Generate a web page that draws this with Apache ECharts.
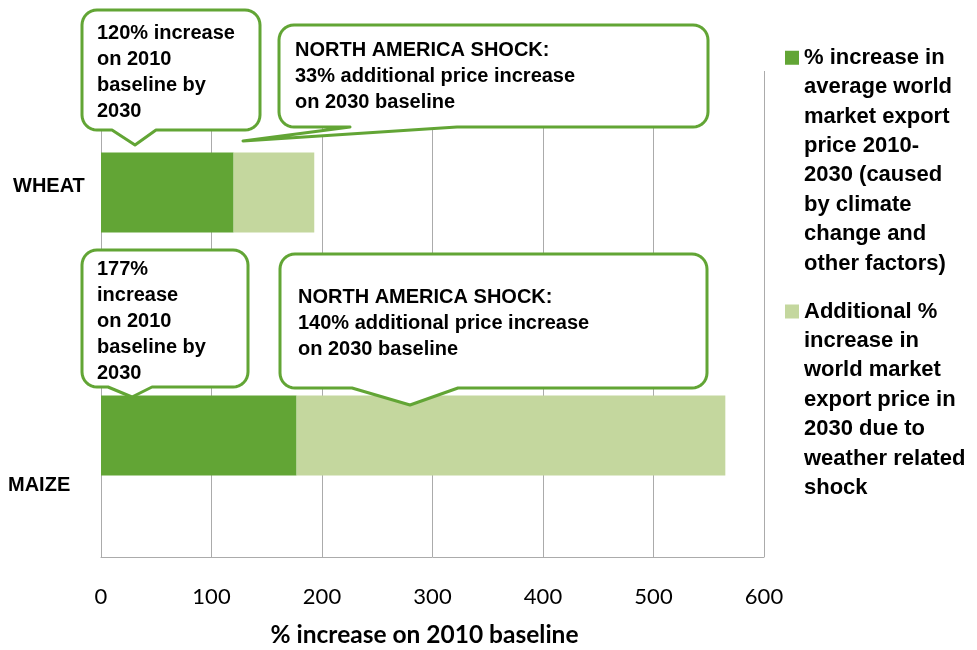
<!DOCTYPE html>
<html>
<head>
<meta charset="utf-8">
<script src="https://cdn.jsdelivr.net/npm/echarts@6/dist/echarts.min.js"></script>
<style>
html,body{margin:0;padding:0;background:#fff;}
#chart{width:977px;height:650px;}
</style>
</head>
<body>
<div id="chart"></div>
<script>
// ---- data ----
var categories = ['WHEAT', 'MAIZE'];
var baseIncrease = [120, 177];      // % increase 2010-2030
var shockIncrease = [73, 388];      // additional % due to weather shock
var xTicks = [0, 100, 200, 300, 400, 500, 600];
var seriesNames = [
  '% increase in average world market export price 2010-2030 (caused by climate change and other factors)',
  'Additional % increase in world market export price in 2030 due to weather related shock'
];
var legendLines = [
  ['% increase in', 'average world', 'market export', 'price 2010-', '2030 (caused', 'by climate', 'change and', 'other factors)'],
  ['Additional %', 'increase in', 'world market', 'export price in', '2030 due to', 'weather related', 'shock']
];
var calloutTexts = [
  ['120% increase', 'on 2010', 'baseline by', '2030'],
  ['NORTH AMERICA SHOCK:', '33% additional price increase', 'on 2030 baseline'],
  ['177%', 'increase', 'on 2010', 'baseline by', '2030'],
  ['NORTH AMERICA SHOCK:', '140% additional price increase', 'on 2030 baseline']
];

var DARK = '#62A535';
var LIGHT = '#C4D79E';
var GRID = '#ABABAB';
var LH = 29.4;

function arcPts(cx, cy, r, a0, a1) {
  var pts = [], n = 8;
  for (var k = 0; k <= n; k++) {
    var a = a0 + (a1 - a0) * k / n;
    pts.push([cx + r * Math.cos(a), cy + r * Math.sin(a)]);
  }
  return pts;
}
function boxPoints(b, r) {
  var P = Math.PI, pts = [];
  pts = pts.concat(arcPts(b.x1 + r, b.y1 + r, r, P, 1.5 * P));        // top-left
  pts = pts.concat(arcPts(b.x2 - r, b.y1 + r, r, 1.5 * P, 2 * P));    // top-right
  pts = pts.concat(arcPts(b.x2 - r, b.y2 - r, r, 0, 0.5 * P));        // bottom-right
  pts.push([b.b2, b.y2]);
  pts.push([b.tx, b.ty]);
  pts.push([b.b1, b.y2]);
  pts = pts.concat(arcPts(b.x1 + r, b.y2 - r, r, 0.5 * P, P));        // bottom-left
  return pts;
}

var boxes = [
  {x1: 82, y1: 10, x2: 260, y2: 130, b1: 112, b2: 156, tx: 135, ty: 145, textX: 97, textY: 20},
  {x1: 279, y1: 25, x2: 708, y2: 127, b1: 350, b2: 457, tx: 243, ty: 141, textX: 295, textY: 37},
  {x1: 82, y1: 250, x2: 248, y2: 387, b1: 108, b2: 152, tx: 132, ty: 397, textX: 97, textY: 256},
  {x1: 280, y1: 254, x2: 707, y2: 388, b1: 352, b2: 458, tx: 410, ty: 405, textX: 298, textY: 284}
];

var graphics = [];
boxes.forEach(function (b, i) {
  graphics.push({
    type: 'polygon', z: 100,
    shape: {points: boxPoints(b, 15)},
    style: {fill: '#fff', stroke: DARK, lineWidth: 3, lineJoin: 'round'}
  });
  graphics.push({
    type: 'text', z: 101, x: b.textX, y: b.textY,
    style: {
      text: calloutTexts[i].join('\n'),
      fontFamily: 'Liberation Sans, Arial, sans-serif', fontWeight: 'bold', fontSize: 20,
      lineHeight: 26, fill: '#000', verticalAlign: 'top', align: 'left'
    }
  });
});

var H = 8 * LH;
function iconPath(firstLineCenter) {
  var y = firstLineCenter - 7;
  return 'path://M0,0h0.01v0.01h-0.01Z M13.99,' + (H - 0.01) + 'h0.01v0.01h-0.01Z M0,' + y + 'h14v14h-14Z';
}
var icon1 = iconPath(LH / 2);
var icon2 = iconPath(H / 2 - 3 * LH);

var chart = echarts.init(document.getElementById('chart'), null, {renderer: 'canvas'});
chart.setOption({
  animation: false,
  backgroundColor: '#fff',
  grid: {left: 101, right: 213, top: 71, bottom: 93, containLabel: false, outerBoundsMode: 'none'},
  legend: {
    orient: 'vertical', left: 785, top: 43, padding: 0,
    itemWidth: 14, itemHeight: H, itemGap: 4,
    selectedMode: false,
    data: [
      {name: seriesNames[0], icon: icon1},
      {name: seriesNames[1], icon: icon2}
    ],
    formatter: function (name) {
      var i = seriesNames.indexOf(name);
      return legendLines[i].join('\n');
    },
    textStyle: {
      fontFamily: 'Liberation Sans, Arial, sans-serif', fontWeight: 'bold',
      fontSize: 22, lineHeight: LH, color: '#000'
    }
  },
  xAxis: {
    type: 'value', min: xTicks[0], max: xTicks[xTicks.length - 1], interval: 100,
    name: '% increase on 2010 baseline', nameLocation: 'middle', nameGap: 66,
    nameTextStyle: {fontFamily: 'Lato, sans-serif', fontWeight: 'bold', fontSize: 24.5, color: '#000', padding: [0, 16, 0, 0]},
    axisLine: {show: true, lineStyle: {color: GRID, width: 1}},
    axisTick: {show: false},
    axisLabel: {margin: 29, fontFamily: 'Lato, sans-serif', fontSize: 22, color: '#000'},
    splitLine: {show: true, lineStyle: {color: GRID, width: 1}}
  },
  yAxis: {
    type: 'category', data: categories, inverse: true,
    axisLine: {show: true, lineStyle: {color: GRID, width: 1}},
    axisTick: {show: false},
    axisLabel: {
      align: 'left', margin: 93,
      formatter: function (v) { return v === 'WHEAT' ? '{w|' + v + '}' : '{m|' + v + '}'; },
      rich: {
        w: {fontFamily: 'Liberation Sans, Arial, sans-serif', fontWeight: 'bold', fontSize: 20, color: '#000', padding: [0, 0, 12, 5]},
        m: {fontFamily: 'Liberation Sans, Arial, sans-serif', fontWeight: 'bold', fontSize: 20, color: '#000', padding: [100, 0, 0, 0]}
      }
    }
  },
  series: [
    {name: seriesNames[0], type: 'bar', stack: 'total', data: baseIncrease, barWidth: '33%', itemStyle: {color: DARK}},
    {name: seriesNames[1], type: 'bar', stack: 'total', data: shockIncrease, barWidth: '33%', itemStyle: {color: LIGHT}}
  ],
  graphic: graphics
});
</script>
</body>
</html>
